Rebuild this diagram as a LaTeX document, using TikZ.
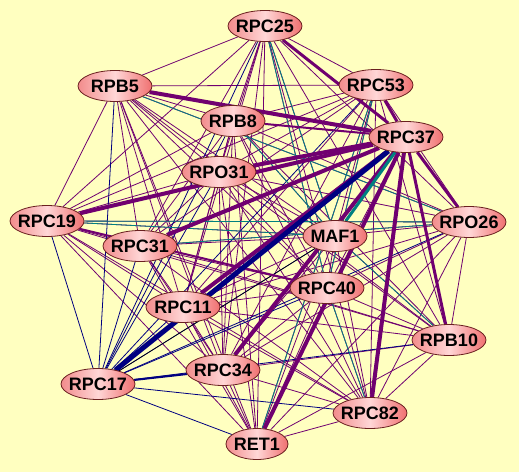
\documentclass[tikz,border=0pt]{standalone}
\usepackage{fontspec}
\setmainfont{Liberation Sans}
\usetikzlibrary{shapes.geometric}
\pgfdeclarelayer{edges}
\pgfsetlayers{edges,main}
\definecolor{bgyellow}{HTML}{FFFFC0}
\definecolor{linkpurple}{HTML}{700070}
\definecolor{linkblue}{HTML}{000080}
\definecolor{linkteal}{HTML}{008080}
\definecolor{protborder}{HTML}{6A2020}
\definecolor{protleft}{HTML}{F28C8C}
\definecolor{protmid}{HTML}{FFD6D6}
\definecolor{protright}{HTML}{F07070}

\begin{document}
\begin{tikzpicture}[x=1pt,y=-1pt,
  prot/.style={ellipse,draw=protborder,line width=0.8pt,left color=protleft,right color=protright,middle color=protmid,
    minimum width=74pt,minimum height=31pt,inner xsep=-10pt,inner ysep=0pt,font=\bfseries\fontsize{18}{18}\selectfont},
  short/.style={minimum width=64pt},
  link/.style={linkpurple,line width=0.8pt},
  bluelink/.style={linkblue,line width=0.8pt},
  teallink/.style={linkteal,line width=0.8pt}]
\useasboundingbox (0,0) rectangle (519,472);
% proteins
\node[prot,alias=p1] (rpc25) at (265,26) {RPC25};
\node[prot,alias=p2] (rpb5) at (115,86) {RPB5};
\node[prot,alias=p3] (rpc53) at (376,85) {RPC53};
\node[prot,short,alias=p4] (rpb8) at (233,121) {RPB8};
\node[prot,alias=p5] (rpc37) at (406,137) {RPC37};
\node[prot,alias=p6] (rpo31) at (219,172) {RPO31};
\node[prot,alias=p7] (rpc19) at (47,221) {RPC19};
\node[prot,alias=p8] (rpo26) at (469,222) {RPO26};
\node[prot,alias=p9] (rpc31) at (140,246) {RPC31};
\node[prot,short,alias=p10] (maf1) at (335,236) {MAF1};
\node[prot,alias=p11] (rpc40) at (327,288) {RPC40};
\node[prot,alias=p12] (rpc11) at (183,307) {RPC11};
\node[prot,alias=p13] (rpb10) at (449,340) {RPB10};
\node[prot,alias=p14] (rpc34) at (223,370) {RPC34};
\node[prot,alias=p15] (rpc82) at (370,413) {RPC82};
\node[prot,short,minimum width=62pt,alias=p16] (ret1) at (257,444) {RET1};
\node[prot] (rpc17) at (98,384) {RPC17};
% interactions
\begin{pgfonlayer}{edges}
\fill[bgyellow] (0,0) rectangle (519,472);
\foreach \i in {1,...,16}
  \foreach \j in {\i,...,16}
    {\ifnum\i<\j \draw[link] (p\i) -- (p\j); \fi}
\foreach \j in {1,...,16} \draw[bluelink] (rpc17) -- (p\j);
\foreach \a/\b in {rpc19/rpo26,rpc31/rpo26,rpc25/maf1,rpc25/rpc40,rpc53/rpc40,rpb8/maf1,maf1/rpb10,rpc40/rpc82,rpc53/ret1,rpb5/rpo26,rpc19/maf1}
  \draw[teallink] (\a) -- (\b);
\draw[black,line width=0.6pt] (rpc17) -- (maf1);
\draw[link,line width=2pt] (rpc19) -- (rpc40);
\draw[bluelink,line width=2pt] (rpc17) -- (rpc34);
\foreach \a/\w in {rpb8/2pt,rpc25/3pt,rpc53/3pt,rpo26/3pt,rpb10/3pt,rpb5/4pt,rpo31/4pt,rpc19/4pt,rpc31/4pt,rpc11/4pt,rpc34/4pt,ret1/4pt,rpc82/4pt}
  \draw[link,line width=\w] (rpc37) -- (\a);
\draw[teallink,line width=3pt] (rpc37) -- (maf1);
\draw[bluelink,line width=5pt] (rpc17) -- (rpc37);
\end{pgfonlayer}
\end{tikzpicture}
\end{document}
